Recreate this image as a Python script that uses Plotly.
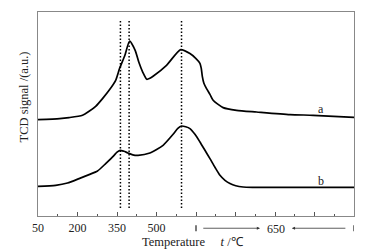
import plotly.graph_objects as go

# Curve a (upper)
a_x = [50, 132, 168, 219, 244, 269, 295, 320, 345, 360, 380, 398, 419, 433, 448, 463, 475, 487,
       538, 592, 627, 649, 665, 670, 674, 680, 690, 703, 715, 753, 804, 880, 1007, 1095, 1250]
a_y = [96.4, 97.4, 98.4, 100.7, 104.7, 109.7, 117.4, 125.7, 135.7, 147.7, 160.7, 175, 165.7, 153.7,
       143.7, 136.7, 137.7, 139.7, 150.7, 166.4, 162.4, 157.7, 152.7, 147.7, 139.7, 132.7, 127.4,
       121.7, 115.7, 108.4, 105.7, 104, 101.4, 100.7, 98.7]

# Curve b (lower)
b_x = [50, 117, 162, 206, 244, 276, 307, 339, 349, 362, 376, 392, 410, 430, 475, 525, 563, 581,
       595, 611, 627, 646, 665, 684, 703, 722, 741, 760, 779, 801, 829, 867, 1250]
b_y = [29.7, 30.7, 33, 37.4, 41.4, 45, 52.4, 60.7, 63.7, 65.7, 64.7, 63, 61.2, 60.7, 63, 70.7,
       81.7, 87.7, 90, 89.2, 87.4, 81.7, 74, 65.7, 57.4, 48.7, 40.7, 35.7, 32.4, 30.2, 29, 28.7, 28.7]

peak_lines = [363, 396, 595]
tick_vals = [50, 200, 350, 500, 650, 800, 950, 1100, 1250]
tick_text = ["50", "200", "350", "500", "", "", "", "", ""]
minor_vals = [125, 275, 425, 575, 725, 875, 1025, 1175]
bar_marks = [650, 1250]

FONT = "Liberation Serif, Times New Roman, serif"

fig = go.Figure()
fig.add_trace(go.Scatter(x=a_x, y=a_y, mode="lines", line=dict(color="black", width=1.7, shape="spline", smoothing=0.6)))
fig.add_trace(go.Scatter(x=b_x, y=b_y, mode="lines", line=dict(color="black", width=1.7, shape="spline", smoothing=0.6)))

for xv in peak_lines:
    fig.add_shape(type="line", x0=xv, x1=xv, y0=8, y1=197, xref="x", yref="y",
                  line=dict(color="black", width=1.5, dash="1.5px,2px"))

for xv in bar_marks:
    fig.add_shape(type="line", x0=xv, x1=xv, y0=-0.045, y1=-0.075, xref="x", yref="paper",
                  line=dict(color="#222", width=1.2))

ann = []
ann.append(dict(x=1123, y=107.4, xref="x", yref="y", text="a", showarrow=False,
                font=dict(family=FONT, size=12, color="#222")))
ann.append(dict(x=1123, y=35, xref="x", yref="y", text="b", showarrow=False,
                font=dict(family=FONT, size=12, color="#222")))
ann.append(dict(x=955, y=-0.062, xref="x", yref="paper", yanchor="middle", text="650", showarrow=False,
                font=dict(family=FONT, size=12, color="#222")))
ann.append(dict(x=893, y=-0.06, xref="x", yref="paper", ax=672, ay=0, axref="x", ayref="pixel",
                text="", showarrow=True, arrowhead=2, arrowsize=0.8, arrowwidth=0.8, arrowcolor="#333"))
ann.append(dict(x=1014, y=-0.06, xref="x", yref="paper", ax=1223, ay=0, axref="x", ayref="pixel",
                text="", showarrow=True, arrowhead=2, arrowsize=0.8, arrowwidth=0.8, arrowcolor="#333"))
ann.append(dict(x=0.49, y=-0.125, xref="paper", yref="paper", xanchor="center", yanchor="middle",
                text="Temperature\u00a0\u00a0\u00a0\u00a0\u00a0<i>t</i> /\u2103", showarrow=False,
                font=dict(family=FONT, size=12.5, color="#222")))
ann.append(dict(x=-0.045, y=0.585, xref="paper", yref="paper", xanchor="center", yanchor="middle",
                text="TCD signal /(a.u.)", textangle=-90, showarrow=False,
                font=dict(family=FONT, size=12.5, color="#222")))

fig.update_layout(
    width=371, height=251,
    margin=dict(l=38, r=17, t=12, b=35),
    paper_bgcolor="white", plot_bgcolor="white",
    showlegend=False,
    annotations=ann,
    xaxis=dict(range=[50, 1250], tickmode="array", tickvals=tick_vals, ticktext=tick_text,
               ticks="inside", ticklen=4, tickcolor="#555", tickwidth=1,
               minor=dict(tickmode="array", tickvals=minor_vals, ticks="inside", ticklen=2, tickcolor="#555"),
               showline=True, linecolor="#888", linewidth=1, mirror=True, showgrid=False, zeroline=False,
               tickfont=dict(family=FONT, size=12, color="#222"), ticklabelstandoff=1),
    yaxis=dict(range=[0, 204], showticklabels=False, ticks="", showline=True, linecolor="#888",
               linewidth=1, mirror=True, showgrid=False, zeroline=False),
)

fig.write_html("out.html", config={"displayModeBar": False},
               post_script="document.body.style.margin='0';document.body.style.overflow='hidden';")
